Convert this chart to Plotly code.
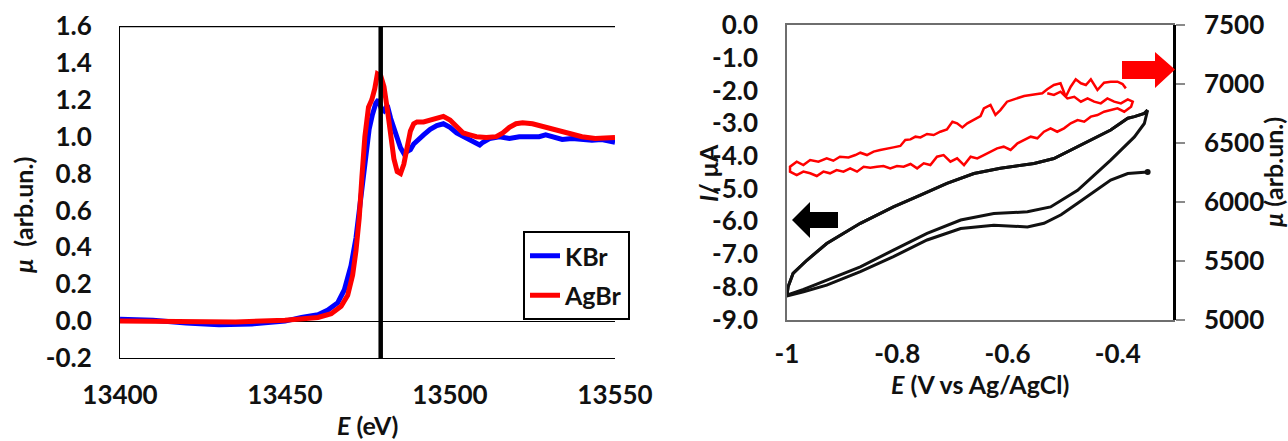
import plotly.graph_objects as go

W, H = 1288, 441

# ---------------- Left panel data: XANES spectra ----------------
kbr_E = [13400, 13410, 13420, 13430, 13440, 13450, 13455, 13460, 13463, 13466, 13468, 13470,
         13471.5, 13472.5, 13473.5, 13474.5, 13475.5, 13476.5, 13477.5, 13478.3, 13479.2, 13480,
         13481, 13482, 13483, 13484, 13485, 13486, 13487, 13488, 13489, 13490, 13492, 13494,
         13496, 13498, 13500, 13502, 13504, 13506, 13508, 13509, 13510, 13512, 13515, 13518,
         13521, 13524, 13527, 13529, 13531, 13534, 13537, 13540, 13543, 13546, 13550]
kbr_mu = [0.01, 0.005, -0.01, -0.02, -0.015, 0.0, 0.02, 0.035, 0.06, 0.1, 0.17, 0.3,
          0.45, 0.6, 0.78, 0.92, 1.04, 1.12, 1.18, 1.2, 1.15, 1.14,
          1.17, 1.1, 1.04, 0.98, 0.94, 0.91, 0.92, 0.93, 0.96, 0.98, 1.01, 1.04,
          1.06, 1.07, 1.05, 1.02, 1.0, 0.98, 0.96, 0.955, 0.97, 0.99, 1.0, 0.99,
          1.0, 1.0, 1.0, 1.01, 1.0, 0.985, 0.99, 0.985, 0.98, 0.985, 0.97]

agbr_E = [13400, 13420, 13435, 13450, 13455, 13460, 13464, 13467, 13469, 13470.5, 13471.5,
          13472.5, 13473.3, 13474.2, 13475.3, 13476.3, 13477.2, 13478, 13479, 13480, 13481,
          13482, 13483, 13484, 13485, 13486, 13487, 13488, 13489, 13490, 13492, 13494, 13496,
          13498, 13500, 13502, 13504, 13506, 13508, 13511, 13514, 13516, 13518, 13520, 13522,
          13525, 13528, 13531, 13534, 13537, 13540, 13544, 13547, 13550]
agbr_mu = [0.0, -0.005, -0.005, 0.005, 0.01, 0.02, 0.04, 0.08, 0.14, 0.25, 0.38,
           0.56, 0.78, 1.0, 1.16, 1.2, 1.26, 1.34, 1.33, 1.27, 1.15,
           1.0, 0.88, 0.81, 0.8, 0.85, 0.94, 1.03, 1.07, 1.08, 1.08, 1.09, 1.1,
           1.11, 1.09, 1.05, 1.02, 1.01, 1.0, 0.995, 1.0, 1.02, 1.05, 1.07, 1.075,
           1.07, 1.055, 1.04, 1.025, 1.01, 1.0, 0.99, 0.99, 0.995]

edge_energy = 13479
left_x_range = [13400, 13550]
left_y_range = [-0.2, 1.6]
left_x_ticks = [13400, 13450, 13500, 13550]
left_y_ticks = [-0.2, 0.0, 0.2, 0.4, 0.6, 0.8, 1.0, 1.2, 1.4, 1.6]

# ---------------- Right panel data: CV (I) and mu ----------------
cv_cath_E = [-0.346, -0.352, -0.37, -0.382, -0.413, -0.443, -0.473, -0.516, -0.552, -0.613,
             -0.661, -0.71, -0.758, -0.807, -0.867, -0.928, -0.964, -0.989, -0.998, -1.0]
cv_cath_I = [-2.6, -2.7, -2.8, -2.85, -3.21, -3.47, -3.72, -4.08, -4.23, -4.38,
             -4.54, -4.84, -5.2, -5.56, -6.06, -6.68, -7.19, -7.59, -8.0, -8.25]
cv_an1_E = [-1.0, -0.97, -0.928, -0.867, -0.807, -0.746, -0.685, -0.625, -0.564, -0.522,
            -0.473, -0.443, -0.413, -0.37, -0.352, -0.346]
cv_an1_I = [-8.25, -8.08, -7.8, -7.39, -6.88, -6.37, -5.96, -5.76, -5.71, -5.56,
            -5.05, -4.6, -4.13, -3.42, -3.01, -2.6]
cv_an2_E = [-1.0, -0.97, -0.928, -0.867, -0.807, -0.746, -0.685, -0.625, -0.564, -0.534,
            -0.503, -0.473, -0.443, -0.413, -0.382, -0.36, -0.346]
cv_an2_I = [-8.28, -8.15, -7.95, -7.54, -7.08, -6.57, -6.22, -6.12, -6.17, -6.06,
            -5.8, -5.45, -5.1, -4.74, -4.54, -4.5, -4.49]

mu_up_E = [-0.3855, -0.3915, -0.4006, -0.413, -0.425, -0.437, -0.449, -0.458, -0.467, -0.4764,
           -0.4855, -0.4945, -0.504, -0.516, -0.528, -0.537, -0.546, -0.558, -0.570, -0.5885,
           -0.601, -0.613, -0.622, -0.631, -0.643, -0.649, -0.661, -0.673, -0.682, -0.6915,
           -0.70, -0.71, -0.722, -0.734, -0.746, -0.758, -0.767, -0.776, -0.7855, -0.7945,
           -0.807, -0.819, -0.831, -0.843, -0.855, -0.867, -0.876, -0.8885, -0.904, -0.916,
           -0.928, -0.943, -0.958, -0.9703, -0.9824, -0.9945]
mu_up_val = [6962, 6999, 7019, 7019, 7010, 6948, 7039, 6991, 7005, 7039,
             6976, 6891, 7005, 6991, 6954, 6920, 6914, 6906, 6897, 6869,
             6849, 6778, 6736, 6821, 6792, 6727, 6693, 6665, 6631, 6665,
             6679, 6614, 6594, 6566, 6575, 6546, 6552, 6529, 6524, 6473,
             6461, 6453, 6439, 6425, 6396, 6416, 6396, 6376, 6382, 6348,
             6368, 6340, 6354, 6311, 6340, 6297]
mu_low_E = [-0.9945, -0.9824, -0.9703, -0.958, -0.946, -0.934, -0.922, -0.91, -0.8976, -0.8855,
            -0.873, -0.861, -0.849, -0.837, -0.825, -0.8127, -0.8006, -0.7885, -0.776, -0.764,
            -0.752, -0.74, -0.728, -0.716, -0.7036, -0.6915, -0.679, -0.667, -0.655, -0.643,
            -0.631, -0.619, -0.607, -0.5945, -0.582, -0.570, -0.558, -0.546, -0.534, -0.522,
            -0.51, -0.4976, -0.4855, -0.473, -0.461, -0.449, -0.437, -0.425, -0.413, -0.4006,
            -0.3885, -0.376, -0.373, -0.382, -0.3945, -0.4067, -0.419, -0.431, -0.443, -0.455,
            -0.467, -0.479, -0.4915, -0.504, -0.516, -0.528]
mu_low_val = [6255, 6226, 6255, 6241, 6218, 6255, 6241, 6269, 6255, 6283,
              6255, 6297, 6289, 6297, 6303, 6283, 6303, 6297, 6320, 6283,
              6326, 6311, 6382, 6396, 6340, 6368, 6311, 6382, 6368, 6396,
              6425, 6453, 6467, 6439, 6495, 6524, 6552, 6538, 6594, 6623,
              6594, 6623, 6665, 6693, 6679, 6722, 6736, 6764, 6778, 6792,
              6764, 6807, 6849, 6869, 6835, 6849, 6877, 6835, 6849, 6877,
              6849, 6891, 6877, 6934, 6906, 6920]

right_x_range = [-1.0, -0.3]
right_x_ticks = [-1.0, -0.8, -0.6, -0.4]
right_x_text = ["-1", "-0.8", "-0.6", "-0.4"]
right_y_range = [-9.0, 0.0]
right_y_ticks = [-9.0, -8.0, -7.0, -6.0, -5.0, -4.0, -3.0, -2.0, -1.0, 0.0]
right_y2_range = [5000, 7500]
right_y2_ticks = [5000, 5500, 6000, 6500, 7000, 7500]

# ---------------- helpers ----------------
def X(px):
    return px / W

def Y(py):
    return 1 - py / H

FONT = "Lato"
TXT = "#111111"
tickfont = dict(family=FONT, size=26, color=TXT, weight="bold")

def fmt1(v):
    s = f"{v:.1f}"
    return "0.0" if s == "-0.0" else s

fig = go.Figure()

# Left panel traces
fig.add_trace(go.Scatter(x=kbr_E, y=kbr_mu, mode="lines", name="KBr",
                         line=dict(color="#0000ff", width=5), xaxis="x", yaxis="y",
                         legendgroup="a"))
fig.add_trace(go.Scatter(x=agbr_E, y=agbr_mu, mode="lines", name="AgBr",
                         line=dict(color="#ff0000", width=5), xaxis="x", yaxis="y",
                         legendgroup="b"))
fig.add_trace(go.Scatter(x=[edge_energy, edge_energy], y=left_y_range, mode="lines",
                         line=dict(color="black", width=4.5), showlegend=False,
                         xaxis="x", yaxis="y"))

# Right panel traces
fig.add_trace(go.Scatter(x=mu_up_E + mu_low_E, y=mu_up_val + mu_low_val, mode="lines",
                         line=dict(color="#ff0000", width=2.5), showlegend=False,
                         xaxis="x2", yaxis="y3"))
fig.add_trace(go.Scatter(x=cv_cath_E + cv_an1_E, y=cv_cath_I + cv_an1_I, mode="lines",
                         line=dict(color="#111111", width=3), showlegend=False,
                         xaxis="x2", yaxis="y2"))
fig.add_trace(go.Scatter(x=cv_cath_E + cv_an2_E, y=cv_cath_I + cv_an2_I, mode="lines",
                         line=dict(color="#111111", width=3), showlegend=False,
                         xaxis="x2", yaxis="y2"))
fig.add_trace(go.Scatter(x=cv_an2_E[-1:], y=cv_an2_I[-1:], mode="markers",
                         marker=dict(color="#111111", size=6), showlegend=False,
                         xaxis="x2", yaxis="y2"))

left_dom_x = [X(120), X(615)]
left_dom_y = [Y(358), Y(26)]
right_dom_x = [X(787), X(1173)]
right_dom_y = [Y(319.5), Y(25)]

fig.update_layout(
    width=W, height=H,
    margin=dict(l=0, r=0, t=0, b=0, autoexpand=False),
    paper_bgcolor="white", plot_bgcolor="white",
    showlegend=True,
    legend=dict(x=X(523), y=Y(231), xanchor="left", yanchor="top",
                bordercolor="black", borderwidth=2, bgcolor="white",
                font=dict(family=FONT, size=25, color=TXT, weight="bold"),
                itemwidth=30, tracegroupgap=4, traceorder="grouped"),
    xaxis=dict(domain=left_dom_x, range=left_x_range, tickvals=left_x_ticks,
               ticktext=[str(v) for v in left_x_ticks], showgrid=False, zeroline=False,
               showline=True, linecolor="black", linewidth=1, ticks="", automargin=False,
               tickfont=tickfont, ticklabelstandoff=14, anchor="y"),
    yaxis=dict(domain=left_dom_y, range=left_y_range, tickvals=left_y_ticks,
               ticktext=[fmt1(v) for v in left_y_ticks], showgrid=False,
               zeroline=True, zerolinecolor="black", zerolinewidth=1, automargin=False,
               showline=True, linecolor="black", linewidth=1, ticks="",
               tickfont=tickfont, ticklabelstandoff=22, anchor="x"),
    xaxis2=dict(domain=right_dom_x, range=right_x_range, tickvals=right_x_ticks,
                ticktext=right_x_text, showgrid=False, zeroline=False, automargin=False,
                showline=True, mirror=True, linecolor="#6e6e6e", linewidth=1.5, ticks="",
                tickfont=tickfont, ticklabelstandoff=11, anchor="y2"),
    yaxis2=dict(domain=right_dom_y, range=right_y_range, tickvals=right_y_ticks,
                ticktext=[fmt1(v) for v in right_y_ticks], showgrid=False, zeroline=False,
                showline=True, mirror=True, linecolor="#6e6e6e", linewidth=1.5, ticks="",
                automargin=False, tickfont=tickfont, ticklabelstandoff=22, anchor="x2"),
    yaxis3=dict(domain=right_dom_y, range=right_y2_range, tickvals=right_y2_ticks,
                ticktext=[str(v) for v in right_y2_ticks], overlaying="y2", side="right",
                showgrid=False, zeroline=False, showline=True, linecolor="black",
                linewidth=2.5, ticks="outside", ticklen=9, tickcolor="#8a8a8a",
                tickwidth=1.5, tickfont=tickfont, ticklabelstandoff=14, anchor="x2",
                automargin=False),
)

# Thick top frame line of the left panel
fig.add_shape(type="line", xref="x domain", x0=0, x1=1, yref="y",
              y0=left_y_range[1], y1=left_y_range[1], line=dict(color="black", width=2.5))

# Block arrows (axis pointers)
def arrow_path(pts):
    return "M " + " L ".join(f"{X(px)},{Y(py)}" for px, py in pts) + " Z"

red_arrow = [(1122, 61), (1155, 61), (1155, 52), (1175, 69.5), (1155, 88), (1155, 79), (1122, 79)]
black_arrow = [(838, 212), (810, 212), (810, 202), (792, 220), (810, 238), (810, 228), (838, 228)]
fig.add_shape(type="path", xref="paper", yref="paper", path=arrow_path(red_arrow),
              fillcolor="#ff0000", line=dict(width=0))
fig.add_shape(type="path", xref="paper", yref="paper", path=arrow_path(black_arrow),
              fillcolor="#000000", line=dict(width=0))

title_font = dict(family=FONT, size=25, color=TXT, weight="bold")
annots = [
    dict(text="<i>E</i> (eV)", x=X(367), y=Y(425), textangle=0),
    dict(text="<i>μ</i>  (arb.un.)", x=X(23), y=Y(215), textangle=-90),
    dict(text="<i>E</i> (V vs Ag/AgCl)", x=X(980), y=Y(384), textangle=0),
    dict(text="<i>I</i>/ μA", x=X(708), y=Y(173), textangle=-90),
    dict(text="<i>μ</i> (arb.un.)", x=X(1273), y=Y(172), textangle=-90),
]
for a in annots:
    fig.add_annotation(xref="paper", yref="paper", showarrow=False, xanchor="center",
                       yanchor="middle", font=title_font, **a)

fig.write_html("out.html", config={"displayModeBar": False},
               post_script="document.body.style.margin='0';document.body.style.overflow='hidden';")
